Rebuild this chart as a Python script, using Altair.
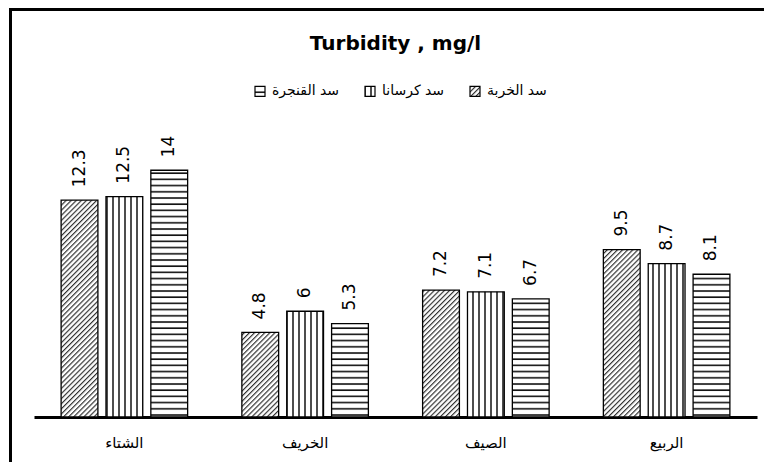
import altair as alt
import pandas as pd
import jinja2

# ---- data ----
seasons = ["الشتاء", "الخريف", "الصيف", "الربيع"]
dams = ["سد الخربة", "سد كرسانا", "سد القنجرة"]
kharba = [12.3, 4.8, 7.2, 9.5]
karsana = [12.5, 6.0, 7.1, 8.7]
qanjara = [14.0, 5.3, 6.7, 8.1]
title_text = "Turbidity , mg/l"

series = {dams[0]: kharba, dams[1]: karsana, dams[2]: qanjara}
rows = []
for d in dams:
    for s, v in zip(seasons, series[d]):
        rows.append({"season": s, "dam": d, "value": v})
df = pd.DataFrame(rows)

legend_order = [dams[2], dams[1], dams[0]]
pattern_range = ["url(#hatchH)", "url(#hatchV)", "url(#hatchD)"]

W, H = 723, 282

base = alt.Chart(df).encode(
    x=alt.X(
        "season:N",
        sort=seasons,
        scale=alt.Scale(paddingInner=0.3, paddingOuter=0.15),
        axis=alt.Axis(
            title=None, labelAngle=0, ticks=False, domainWidth=3,
            domainColor="black", labelFont="DejaVu Sans", labelFontSize=15,
            labelColor="black", labelPadding=18,
        ),
    ),
    xOffset=alt.XOffset("dam:N", sort=dams,
                        scale=alt.Scale(paddingInner=0.18, paddingOuter=0)),
    y=alt.Y("value:Q", scale=alt.Scale(domain=[0, 16], nice=False), axis=None),
)

bars = base.mark_bar(stroke="black", strokeWidth=1.3).encode(
    color=alt.Color(
        "dam:N",
        scale=alt.Scale(domain=legend_order, range=pattern_range),
        legend=alt.Legend(
            title=None, orient="none", legendX=219, legendY=-51,
            direction="horizontal", symbolType="square", symbolSize=100,
            symbolStrokeColor="black", symbolStrokeWidth=1.2,
            labelFont="DejaVu Sans", labelFontSize=14, labelColor="black",
            columnPadding=22, labelOffset=5, padding=0,
        ),
    )
)

labels = base.mark_text(
    angle=270, align="left", baseline="middle", dx=13,
    font="DejaVu Sans", fontSize=17, color="black",
).encode(text=alt.Text("value:Q", format="~g"))

frame = alt.Chart(pd.DataFrame({"f": [0]})).mark_rect(
    fillOpacity=0, stroke="black", strokeWidth=3
).encode(
    x=alt.value(-23.5), x2=alt.value(900), y=alt.value(-125.5), y2=alt.value(700)
)

chart = alt.layer(frame, bars, labels).properties(
    width=W, height=H,
    title=alt.TitleParams(
        title_text, font="DejaVu Sans", fontSize=20, fontWeight="bold",
        color="black", anchor="middle", frame="group", baseline="alphabetic",
        offset=0, dy=62,
    ),
    autosize=alt.AutoSizeParams(type="none"),
    padding={"left": 26, "top": 127, "right": 7, "bottom": 45},
    background="white",
).configure_view(strokeWidth=0)

TEMPLATE = jinja2.Template("""<!DOCTYPE html>
<html>
<head>
  <style>
    #{{ output_div }}.vega-embed { width: 100%; display: flex; }
    #{{ output_div }}.vega-embed details,
    #{{ output_div }}.vega-embed details summary { position: relative; }
  </style>
  <script type="text/javascript" src="{{ base_url }}/vega@{{ vega_version }}"></script>
  <script type="text/javascript" src="{{ base_url }}/vega-lite@{{ vegalite_version }}"></script>
  <script type="text/javascript" src="{{ base_url }}/vega-embed@{{ vegaembed_version }}"></script>
</head>
<body>
  <svg width="0" height="0" style="position:absolute">
    <defs>
      <pattern id="hatchD" width="3.6" height="3.6" patternUnits="userSpaceOnUse" patternTransform="rotate(45)">
        <rect width="3.6" height="3.6" fill="white"/>
        <line x1="0.6" y1="0" x2="0.6" y2="3.6" stroke="#222" stroke-width="1.1"/>
      </pattern>
      <pattern id="hatchV" width="6" height="6" patternUnits="userSpaceOnUse">
        <rect width="6" height="6" fill="white"/>
        <line x1="1" y1="0" x2="1" y2="6" stroke="#111" stroke-width="1.5"/>
      </pattern>
      <pattern id="hatchH" width="6" height="6.2" patternUnits="userSpaceOnUse">
        <rect width="6" height="6.2" fill="white"/>
        <line x1="0" y1="1" x2="6" y2="1" stroke="#111" stroke-width="1.6"/>
      </pattern>
    </defs>
  </svg>
  <div id="{{ output_div }}"></div>
  <script type="text/javascript">
    (function(vegaEmbed) {
      var spec = {{ spec }};
      var embedOpt = {{ embed_options }};
      function showError(el, error){
        el.innerHTML = ('<div style="color:red;"><p>JavaScript Error: ' + error.message + '</p></div>');
        throw error;
      }
      const el = document.getElementById('{{ output_div }}');
      vegaEmbed("#{{ output_div }}", spec, embedOpt).catch(error => showError(el, error));
    })(vegaEmbed);
  </script>
</body>
</html>
""")

chart.save("out.html", embed_options={"renderer": "svg", "actions": False},
           template=TEMPLATE)
